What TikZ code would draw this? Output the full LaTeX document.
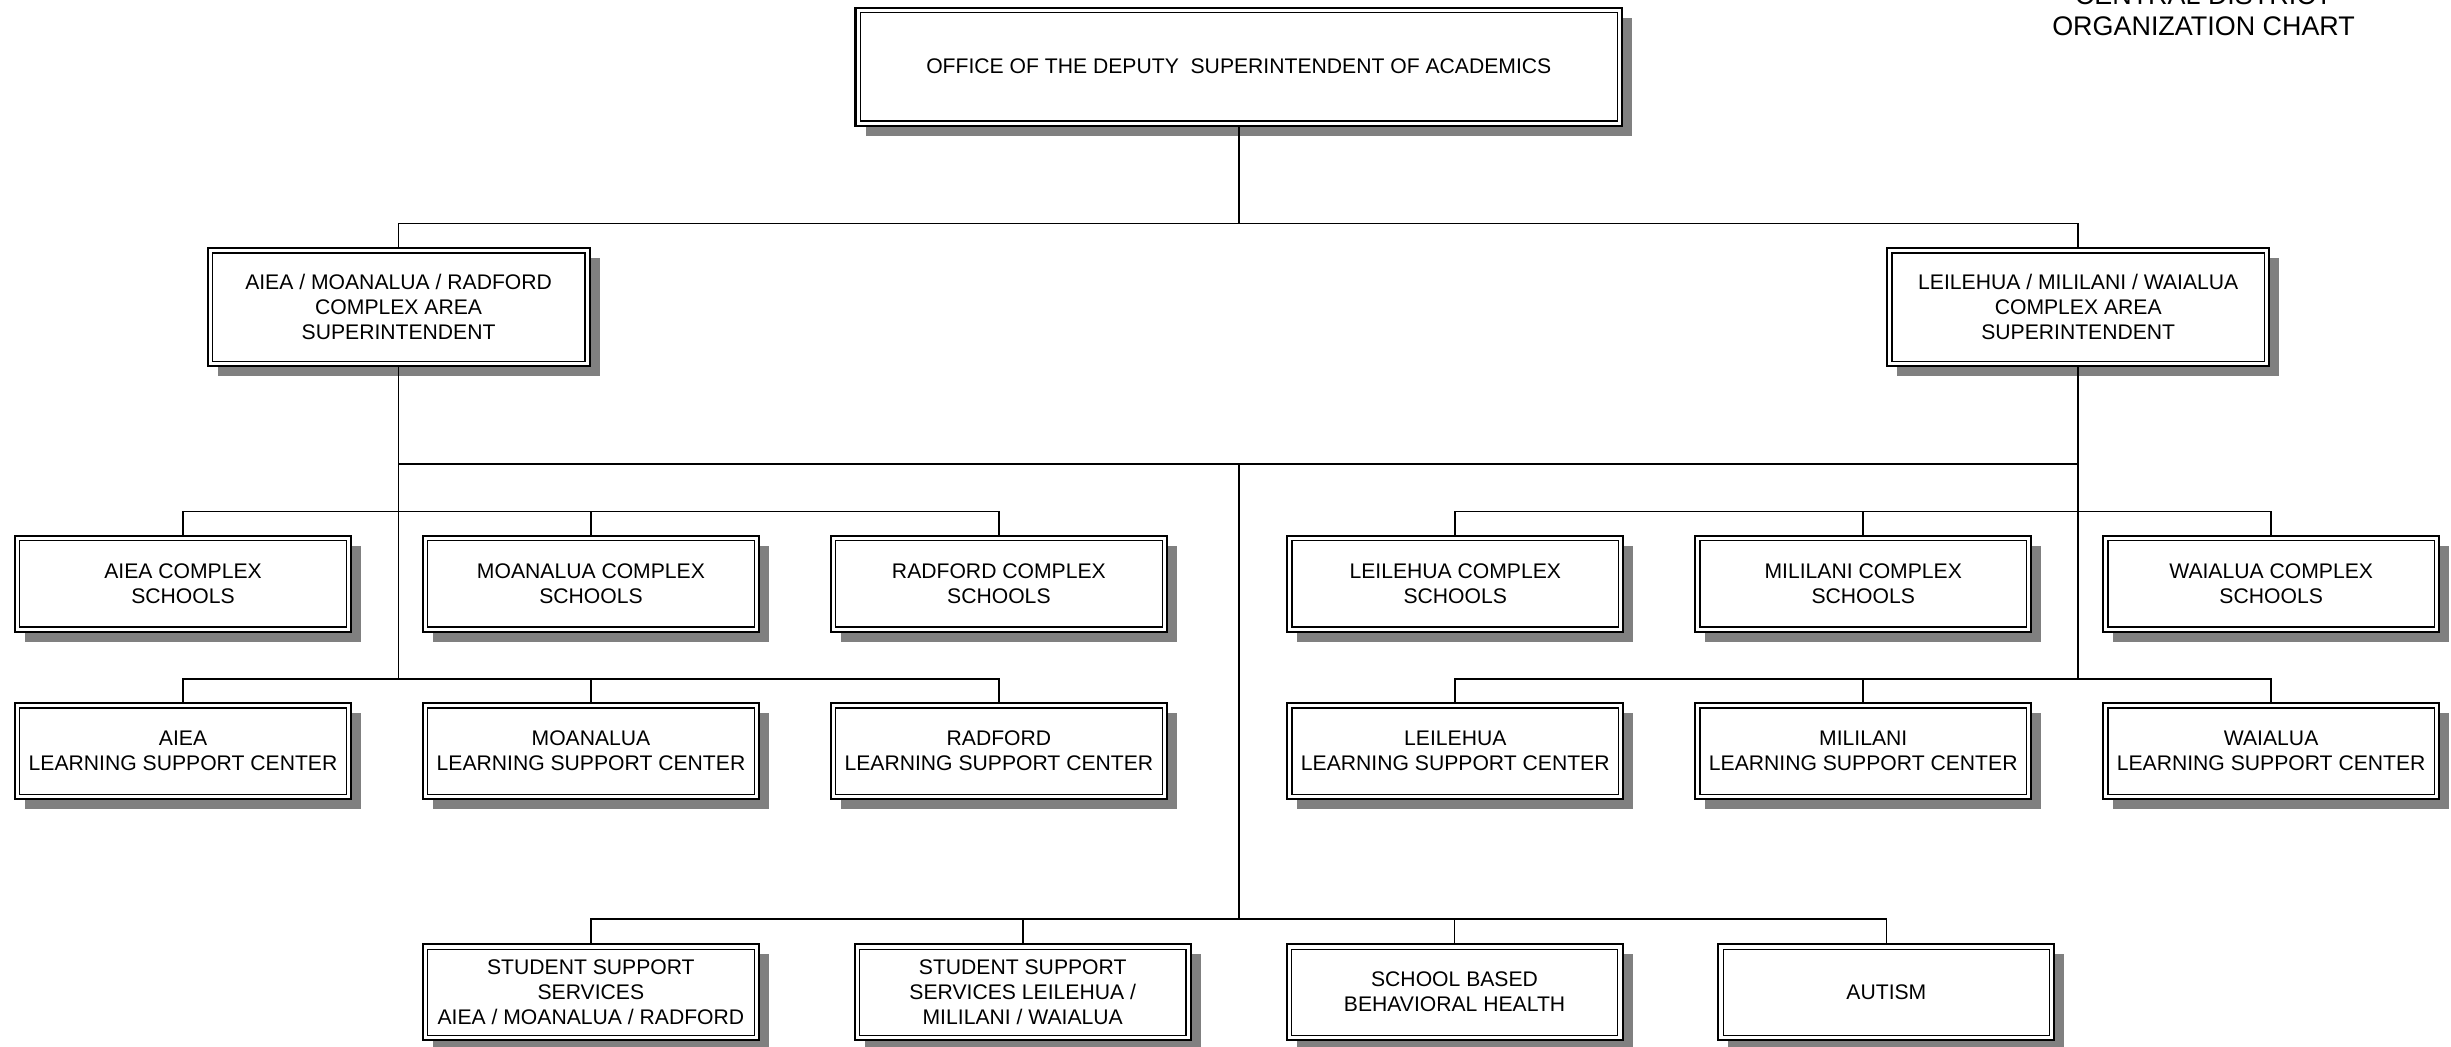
\documentclass[tikz,border=0pt]{standalone}
\usepackage{fontspec}
\setmainfont{Liberation Sans}
\usetikzlibrary{positioning}
\usetikzlibrary{shadows}

\begin{document}
\begin{tikzpicture}[x=0.02cm,y=-0.02cm,
  every node/.style={align=center,inner sep=0pt,font=\fontsize{7.7}{9.1}\selectfont},
  orgbox/.style={draw,fill=white,line width=0.75pt,
    drop shadow={shadow xshift=0.128cm,shadow yshift=-0.128cm,fill=black!50,opacity=1}},
  orgunit/.style={minimum width=4.3cm,minimum height=1.224cm},
  head/.style={minimum width=4.89cm,minimum height=1.51cm},
  link/.style={line width=0.6pt}]
\useasboundingbox (0,0) rectangle (1568,669.2);

\node (title) at (1409.7,23) [anchor=south,font=\fontsize{9.8}{11.2}\selectfont] {CENTRAL DISTRICT\\ORGANIZATION CHART};

\node[orgbox,minimum width=9.81cm,minimum height=1.51cm] (office) at (792.5,42.65) {OFFICE OF THE DEPUTY~ SUPERINTENDENT OF ACADEMICS};
\node[orgbox,head] (left sup) at (255,196.5) {AIEA / MOANALUA / RADFORD\\COMPLEX AREA\\SUPERINTENDENT};
\node[orgbox,head] (right sup) at (1329.5,196.5) {LEILEHUA / MILILANI / WAIALUA\\COMPLEX AREA\\SUPERINTENDENT};

\node[orgbox,orgunit] (aiea schools) at (117.1,373.55) {AIEA COMPLEX\\SCHOOLS};
\node[orgbox,orgunit,right=0.894cm of aiea schools] (moanalua schools) {MOANALUA COMPLEX\\SCHOOLS};
\node[orgbox,orgunit,right=0.894cm of moanalua schools] (radford schools) {RADFORD COMPLEX\\SCHOOLS};
\node[orgbox,orgunit] (leilehua schools) at (931,373.55) {LEILEHUA COMPLEX\\SCHOOLS};
\node[orgbox,orgunit,right=0.894cm of leilehua schools] (mililani schools) {MILILANI COMPLEX\\SCHOOLS};
\node[orgbox,orgunit,right=0.894cm of mililani schools] (waialua schools) {WAIALUA COMPLEX\\SCHOOLS};

\node[orgbox,orgunit,below=0.889cm of aiea schools] (aiea lsc) {AIEA\\LEARNING SUPPORT CENTER};
\node[orgbox,orgunit,below=0.889cm of moanalua schools] (moanalua lsc) {MOANALUA\\LEARNING SUPPORT CENTER};
\node[orgbox,orgunit,below=0.889cm of radford schools] (radford lsc) {RADFORD\\LEARNING SUPPORT CENTER};
\node[orgbox,orgunit,below=0.889cm of leilehua schools] (leilehua lsc) {LEILEHUA\\LEARNING SUPPORT CENTER};
\node[orgbox,orgunit,below=0.889cm of mililani schools] (mililani lsc) {MILILANI\\LEARNING SUPPORT CENTER};
\node[orgbox,orgunit,below=0.889cm of waialua schools] (waialua lsc) {WAIALUA\\LEARNING SUPPORT CENTER};

\node[orgbox,orgunit] (amr support) at (378,634.75) {STUDENT SUPPORT\\SERVICES\\AIEA / MOANALUA / RADFORD};
\node[orgbox,orgunit,right=1.2cm of amr support] (lmw support) {STUDENT SUPPORT\\SERVICES LEILEHUA /\\MILILANI / WAIALUA};
\node[orgbox,orgunit,right=1.2cm of lmw support] (behavioral health) {SCHOOL BASED\\BEHAVIORAL HEALTH};
\node[orgbox,orgunit,right=1.2cm of behavioral health] (autism) {AUTISM};

\foreach \n in {office,left sup,right sup,aiea schools,moanalua schools,radford schools,
  leilehua schools,mililani schools,waialua schools,aiea lsc,moanalua lsc,radford lsc,
  leilehua lsc,mililani lsc,waialua lsc,amr support,lmw support,behavioral health,autism}
  \draw[line width=0.45pt] ([shift={(3.7,-3.7)}]\n.south west) rectangle ([shift={(-3.7,3.7)}]\n.north east);

\coordinate (top bar) at (792.5,143);
\coordinate (mid bar) at (792.5,297);
\coordinate (support bar) at (792.5,588);
\coordinate (left bar) at (255,434.3);
\coordinate (right bar) at (1329.5,434.3);

\draw[link] (office) -- (top bar);
\draw[link] (left sup) |- (top bar) -| (right sup);
\draw[link] (left sup) -- (left bar);
\draw[link] (right sup) -- (right bar);
\draw[link] (mid bar -| left sup) -- (mid bar -| right sup);
\draw[link] (mid bar) -- (support bar);
\draw[link] (amr support) |- (support bar) -| (autism);
\draw[link] (lmw support) -- (lmw support |- support bar);
\draw[link] (behavioral health) -- (behavioral health |- support bar);
\foreach \l/\m/\r in {aiea schools/moanalua schools/radford schools,
  leilehua schools/mililani schools/waialua schools,
  aiea lsc/moanalua lsc/radford lsc,leilehua lsc/mililani lsc/waialua lsc}
  \draw[link] (\l.north) -- ++(0,-15) -| (\r.north) (\m.north) -- ++(0,-15);
\end{tikzpicture}
\end{document}
